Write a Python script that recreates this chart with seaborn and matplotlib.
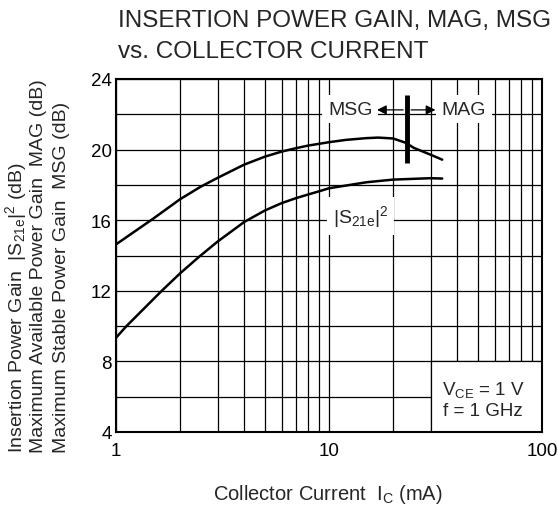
import matplotlib
matplotlib.use("Agg")
import matplotlib.pyplot as plt
import seaborn as sns
from matplotlib.patches import Rectangle
from matplotlib.ticker import LogLocator, NullFormatter

# values
ic_msg = [1, 1.5, 2, 2.5, 3, 4, 5, 6, 7, 8, 9, 10, 12, 15, 17, 20, 23, 25, 30, 34]
gain_msg = [14.63, 16.1, 17.19, 17.9, 18.4, 19.15, 19.6, 19.89, 20.08, 20.23,
            20.33, 20.42, 20.55, 20.65, 20.68, 20.63, 20.38, 20.1, 19.71, 19.43]
ic_s21 = [1, 1.12, 1.64, 2, 2.44, 3, 4, 5, 6, 7, 8, 9, 10, 15, 20, 30, 34]
gain_s21 = [9.34, 10.0, 12.0, 12.99, 13.9, 14.79, 15.9, 16.55, 16.97, 17.25,
            17.46, 17.64, 17.81, 18.15, 18.3, 18.38, 18.36]
x_ticks = [1, 10, 100]
y_ticks = [4, 8, 12, 16, 20, 24]
boundary_ic = 23.3

sns.set_style("white")
plt.rcParams["font.family"] = ["Liberation Sans", "DejaVu Sans"]
plt.rcParams["mathtext.fontset"] = "custom"
plt.rcParams["mathtext.rm"] = "Liberation Sans"

fig = plt.figure(figsize=(5.58, 5.06), dpi=100)
ax = fig.add_axes([116 / 558, 1 - 433 / 506, 426 / 558, 353 / 506])

sns.lineplot(x=ic_msg, y=gain_msg, ax=ax, color="black", lw=1.8, zorder=3)
sns.lineplot(x=ic_s21, y=gain_s21, ax=ax, color="black", lw=1.8, zorder=3)

ax.set_xscale("log")
ax.set_xlim(1, 100)
ax.set_ylim(4, 24)
ax.set_xticks(x_ticks)
ax.set_xticklabels([str(v) for v in x_ticks])
ax.xaxis.set_minor_locator(LogLocator(base=10, subs=range(2, 10)))
ax.xaxis.set_minor_formatter(NullFormatter())
ax.set_yticks(y_ticks)
ax.set_yticks(range(4, 25, 2), minor=True)
ax.grid(which="both", color="black", lw=0.9)
ax.tick_params(which="both", length=0, labelsize=13.5, colors="black")
ax.tick_params(axis="y", pad=3)
ax.tick_params(axis="x", pad=7)
for s in ax.spines.values():
    s.set_color("black")
    s.set_linewidth(1.5)
    s.set_zorder(5)

# condition box in the lower right
ax.add_patch(Rectangle((30, 4), 70, 4, facecolor="white", edgecolor="black",
                       lw=0.9, zorder=2))
ax.text(52.8, 5.85, r"V$\mathregular{_{CE}}$ = 1 V" + "\n" + "f = 1 GHz",
        ha="center", va="center", fontsize=13.5, linespacing=1.25, zorder=4)

# MSG / MAG boundary
ax.plot([boundary_ic, boundary_ic], [19.24, 23.1], color="black", lw=3.5,
        solid_capstyle="butt", zorder=4)
arrow = dict(arrowstyle="-|>", color="black", lw=0.9, mutation_scale=14,
             shrinkA=0, shrinkB=0)
ax.annotate("", xy=(16.8, 22.25), xytext=(22.3, 22.25), arrowprops=arrow, zorder=4)
ax.annotate("", xy=(31.6, 22.25), xytext=(24.3, 22.25), arrowprops=arrow, zorder=4)
box = dict(boxstyle="square,pad=0.3", facecolor="white", edgecolor="none")
ax.text(12.6, 22.3, "MSG", ha="center", va="center", fontsize=14, bbox=box, zorder=4)
ax.text(43.0, 22.3, "MAG", ha="center", va="center", fontsize=14, bbox=box, zorder=4)
ax.text(14.1, 16.24, r"|S$\mathregular{_{21e}}$|$\mathregular{^2}$", ha="center",
        va="center", fontsize=14, bbox=box, zorder=4)

# titles and axis labels
fig.text(118 / 558, 1 - 27 / 506, "INSERTION POWER GAIN, MAG, MSG",
         ha="left", va="baseline", fontsize=17.5)
fig.text(118 / 558, 1 - 58 / 506, "vs. COLLECTOR CURRENT",
         ha="left", va="baseline", fontsize=17.5)
fig.text(328 / 558, 1 - 500 / 506, r"Collector Current  I$\mathregular{_C}$ (mA)",
         ha="center", va="baseline", fontsize=14.5)
ylabels = [r"Insertion Power Gain  |S$\mathregular{_{21e}}$|$\mathregular{^2}$ (dB)",
           "Maximum Available Power Gain  MAG (dB)",
           "Maximum Stable Power Gain  MSG (dB)"]
for xp, lab in zip([16, 39, 62], ylabels):
    fig.text(xp / 558, 1 - 453 / 506, lab, rotation=90, ha="center", va="bottom",
             fontsize=14)

fig.savefig("out.png", dpi=100)
